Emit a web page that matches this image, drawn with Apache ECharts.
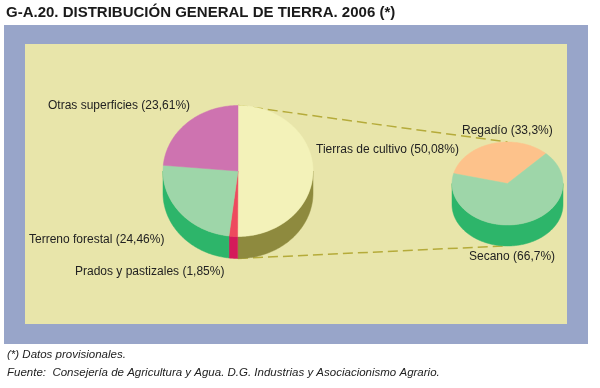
<!DOCTYPE html>
<html><head><meta charset="utf-8">
<script src="https://cdn.jsdelivr.net/npm/echarts@6/dist/echarts.min.js"></script>
<style>html,body{margin:0;padding:0;background:#fff}#c{width:600px;height:388px}</style>
</head><body><div id="c"></div>
<script>
// ---- data ----
const leftCats = ['Tierras de cultivo', 'Prados y pastizales', 'Terreno forestal', 'Otras superficies'];
const leftVals = [50.08, 1.85, 24.46, 23.61];
const rightCats = ['Regadío', 'Secano'];
const rightVals = [33.3, 66.7];

// ---- styles / layout ----
const leftTop = ['#f3f2b9', '#ee4a5e', '#9ed6a9', '#ce73b0'];
const leftSide = ['#8e8a3e', '#d41a5a', '#2db56a', '#a84c8c'];
const rightTop = ['#fdc28b', '#9ed6a9'];
const rightSide = ['#e89a5a', '#2db56a'];
const L = {cx: 238, cy: 171, rx: 75, ry: 65.5, depth: 22, start: 0};
const R = {cx: 507.5, cy: 183.5, rx: 55.5, ry: 41.5, depth: 21, start: -76};
const leftLabelPos = [[316, 150], [75, 272], [29, 240], [48, 106]];
const rightLabelPos = [[462, 131], [469, 257]];

const fmt = v => String(v).replace('.', ',');

function pt(g, deg, dy) {
  const a = deg * Math.PI / 180;
  return [g.cx + g.rx * Math.sin(a), g.cy - g.ry * Math.cos(a) + (dy || 0)];
}
function arcPts(g, a0, a1, dy) {
  const pts = [];
  const n = Math.max(2, Math.ceil(Math.abs(a1 - a0)));
  for (let i = 0; i <= n; i++) pts.push(pt(g, a0 + (a1 - a0) * i / n, dy));
  return pts;
}
function angles(vals, g, idx) {
  const tot = vals.reduce((s, v) => s + v, 0);
  let acc = 0;
  for (let i = 0; i < idx; i++) acc += vals[i];
  return [g.start + acc / tot * 360, g.start + (acc + vals[idx]) / tot * 360];
}
function makeSeries(vals, g, tops, sides, name) {
  const data = vals.map(v => [v]);
  return [{
    type: 'custom', name: name + '-side', coordinateSystem: 'none', z: 2, silent: true,
    data: data,
    renderItem: function (params, api) {
      const i = params.dataIndex;
      const [a0, a1] = angles(vals, g, i);
      const children = [];
      for (let k = -1; k <= 1; k++) {
        const f0 = 90 + 360 * k, f1 = 270 + 360 * k;
        const s = Math.max(a0, f0), e = Math.min(a1, f1);
        if (e > s) {
          const topArc = arcPts(g, s, e, 0);
          const botArc = arcPts(g, e, s, g.depth);
          children.push({type: 'polygon', shape: {points: topArc.concat(botArc)},
            style: {fill: sides[i], stroke: sides[i], lineWidth: 0.5}});
        }
      }
      return {type: 'group', children: children};
    }
  }, {
    type: 'custom', name: name + '-top', coordinateSystem: 'none', z: 3, silent: true,
    data: data,
    renderItem: function (params, api) {
      const i = params.dataIndex;
      const [a0, a1] = angles(vals, g, i);
      const pts = [[g.cx, g.cy]].concat(arcPts(g, a0, a1, 0));
      return {type: 'polygon', shape: {points: pts},
        style: {fill: tops[i], stroke: tops[i], lineWidth: 0.5}};
    }
  }];
}

const lblStyle = {fontFamily: 'Liberation Sans, Arial, sans-serif', fontSize: 12, fill: '#222', verticalAlign: 'middle', align: 'left'};
const noteStyle = {fontFamily: 'Liberation Sans, Arial, sans-serif', fontStyle: 'italic', fontSize: 11.5, fill: '#222', verticalAlign: 'middle'};
const graphics = [
  {type: 'rect', shape: {x: 4, y: 25, width: 584, height: 319}, style: {fill: '#98a5c9'}, z: 0},
  {type: 'rect', shape: {x: 25, y: 44, width: 542, height: 280}, style: {fill: '#e8e5aa'}, z: 0},
  {type: 'line', shape: {x1: L.cx, y1: L.cy - L.ry, x2: R.cx, y2: R.cy - R.ry}, style: {stroke: '#b5ab3a', lineWidth: 1.5, lineDash: [10, 5]}, z: 1},
  {type: 'line', shape: {x1: L.cx, y1: L.cy + L.ry + L.depth, x2: R.cx - 4, y2: R.cy + R.ry + R.depth}, style: {stroke: '#b5ab3a', lineWidth: 1.5, lineDash: [10, 5]}, z: 1},
  {type: 'text', x: 7, y: 355, style: Object.assign({text: '(*) Datos provisionales.'}, noteStyle)},
  {type: 'text', x: 7, y: 373, style: Object.assign({text: 'Fuente:  Consejería de Agricultura y Agua. D.G. Industrias y Asociacionismo Agrario.'}, noteStyle)}
];
leftCats.forEach((c, i) => graphics.push({type: 'text', x: leftLabelPos[i][0], y: leftLabelPos[i][1], z: 5,
  style: Object.assign({text: c + ' (' + fmt(leftVals[i]) + '%)'}, lblStyle)}));
rightCats.forEach((c, i) => graphics.push({type: 'text', x: rightLabelPos[i][0], y: rightLabelPos[i][1], z: 5,
  style: Object.assign({text: c + ' (' + fmt(rightVals[i]) + '%)'}, lblStyle)}));

const chart = echarts.init(document.getElementById('c'), null, {renderer: 'canvas'});
chart.setOption({
  animation: false,
  title: {text: 'G-A.20. DISTRIBUCIÓN GENERAL DE TIERRA. 2006 (*)', left: 1, top: 0,
    textStyle: {fontFamily: 'Liberation Sans, Arial, sans-serif', fontWeight: 'bold', fontSize: 15, color: '#1a1a1a'}},
  graphic: graphics,
  series: makeSeries(leftVals, L, leftTop, leftSide, 'left').concat(makeSeries(rightVals, R, rightTop, rightSide, 'right'))
});
</script></body></html>
